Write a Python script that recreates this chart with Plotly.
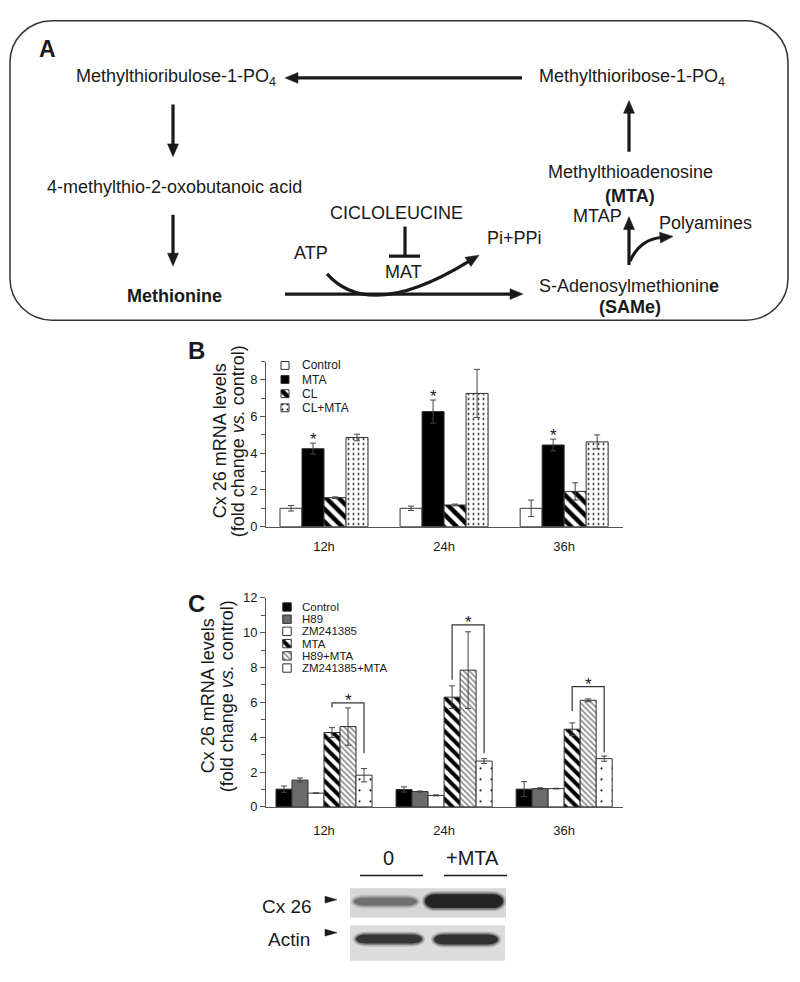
import math
import plotly.graph_objects as go

W, H = 800, 982
INK = "#1a1a1a"
FONT = "Liberation Sans, Arial, sans-serif"

# ---------------- data ----------------
time_labels = ["12h", "24h", "36h"]

# Panel B
b_series = ["Control", "MTA", "CL", "CL+MTA"]
b_control = [1.0, 1.0, 1.0]
b_control_err = [0.15, 0.12, 0.45]
b_mta = [4.25, 6.27, 4.45]
b_mta_err = [0.30, 0.63, 0.32]
b_cl = [1.58, 1.18, 1.92]
b_cl_err = [0.04, 0.05, 0.47]
b_clmta = [4.86, 7.26, 4.62]
b_clmta_err = [0.18, 1.31, 0.38]

# Panel C
c_series = ["Control", "H89", "ZM241385", "MTA", "H89+MTA", "ZM241385+MTA"]
c_control = [1.02, 1.00, 1.02]
c_control_err = [0.18, 0.15, 0.43]
c_h89 = [1.54, 0.88, 1.05]
c_h89_err = [0.12, 0.03, 0.05]
c_zm = [0.79, 0.66, 1.05]
c_zm_err = [0.02, 0.03, 0.02]
c_mta = [4.27, 6.30, 4.46]
c_mta_err = [0.28, 0.65, 0.36]
c_h89mta = [4.61, 7.85, 6.12]
c_h89mta_err = [1.07, 2.20, 0.08]
c_zmmta = [1.82, 2.63, 2.77]
c_zmmta_err = [0.38, 0.14, 0.15]

# significance brackets in C (MTA vs ZM241385+MTA)
c_bracket_top = [5.97, 10.45, 6.9]
c_bracket_left_end = [5.7, 7.3, 5.5]
c_bracket_right_end = [3.08, 3.08, 3.14]

# Western blot labels
blot_lanes = ["0", "+MTA"]
blot_rows = ["Cx 26", "Actin"]

# ---------------- styles ----------------
b_styles = [
    dict(color="white"),
    dict(color="black"),
    dict(color="white", pattern=dict(shape="\\", fgcolor="black", bgcolor="white", size=9, solidity=0.5, fillmode="replace")),
    dict(color="white", pattern=dict(shape=".", fgcolor="black", bgcolor="white", size=5, solidity=0.12, fillmode="replace")),
]
c_styles = [
    dict(color="black"),
    dict(color="#6b6b6b"),
    dict(color="white"),
    dict(color="white", pattern=dict(shape="\\", fgcolor="black", bgcolor="white", size=8, solidity=0.5, fillmode="replace")),
    dict(color="white", pattern=dict(shape="\\", fgcolor="#8a8a8a", bgcolor="white", size=4, solidity=0.4, fillmode="replace")),
    dict(color="white", pattern=dict(shape=".", fgcolor="black", bgcolor="white", size=11, solidity=0.03, fillmode="replace")),
]

fig = go.Figure()
x_idx = list(range(len(time_labels)))

def add_group(values, errs, styles, names, xa, ya, group_w):
    n = len(values)
    w = group_w / n
    centers = []
    for i, (v, e, st, nm) in enumerate(zip(values, errs, styles, names)):
        off = -group_w / 2 + i * w
        marker = dict(st)
        marker["line"] = dict(color="#333", width=1)
        fig.add_trace(go.Bar(
            x=x_idx, y=v, name=nm, width=w, offset=off,
            marker=marker, xaxis=xa, yaxis=ya, showlegend=False,
            error_y=dict(type="data", array=e, symmetric=True, color="#444", thickness=1, width=3),
        ))
        centers.append([g + off + w / 2 for g in x_idx])
    return centers

b_vals = [b_control, b_mta, b_cl, b_clmta]
b_errs = [b_control_err, b_mta_err, b_cl_err, b_clmta_err]
b_centers = add_group(b_vals, b_errs, b_styles, b_series, "x", "y", 0.733)

c_vals = [c_control, c_h89, c_zm, c_mta, c_h89mta, c_zmmta]
c_errs = [c_control_err, c_h89_err, c_zm_err, c_mta_err, c_h89mta_err, c_zmmta_err]
c_centers = add_group(c_vals, c_errs, c_styles, c_series, "x2", "y2", 0.8)

annotations = []
shapes = []

# stars over MTA in B
for g in x_idx:
    annotations.append(dict(x=b_centers[1][g], y=b_mta[g] + b_mta_err[g], xref="x", yref="y",
                            text="*", showarrow=False, yanchor="middle", yshift=4,
                            font=dict(size=17, color=INK, family=FONT)))

# brackets in C
for g in x_idx:
    xl = c_centers[3][g]
    xr = c_centers[5][g]
    fig.add_trace(go.Scatter(
        x=[xl, xl, xr, xr],
        y=[c_bracket_left_end[g], c_bracket_top[g], c_bracket_top[g], c_bracket_right_end[g]],
        mode="lines", line=dict(color="#333", width=1.2), xaxis="x2", yaxis="y2",
        showlegend=False, hoverinfo="skip"))
    annotations.append(dict(x=(xl + xr) / 2, y=c_bracket_top[g], xref="x2", yref="y2",
                            text="*", showarrow=False, yanchor="middle", yshift=2,
                            font=dict(size=17, color=INK, family=FONT)))

# ---------------- pixel helpers ----------------
def txt(x, y, s, size=18, xanchor="center", yanchor="middle", angle=0, color=INK):
    annotations.append(dict(x=x, y=y, xref="x3", yref="y3", text=s, showarrow=False,
                            xanchor=xanchor, yanchor=yanchor, textangle=angle,
                            font=dict(size=size, color=color, family=FONT)))

def line(x0, y0, x1, y1, w=3.2, color=INK):
    shapes.append(dict(type="line", xref="x3", yref="y3", x0=x0, y0=y0, x1=x1, y1=y1,
                       line=dict(color=color, width=w)))

def head(tipx, tipy, ux, uy, hl=13, hw=11, color=INK):
    bx, by = tipx - ux * hl, tipy - uy * hl
    px_, py_ = -uy, ux
    shapes.append(dict(type="path", xref="x3", yref="y3",
                       path=f"M {tipx},{tipy} L {bx + px_ * hw / 2},{by + py_ * hw / 2} L {bx - px_ * hw / 2},{by - py_ * hw / 2} Z",
                       fillcolor=color, line=dict(color=color, width=0.5)))
    return bx, by

def arrow(x0, y0, x1, y1, w=3.2, hl=13, hw=11):
    dx, dy = x1 - x0, y1 - y0
    L = math.hypot(dx, dy)
    ux, uy = dx / L, dy / L
    bx, by = head(x1, y1, ux, uy, hl, hw)
    line(x0, y0, bx + ux, by + uy, w)

def curved_arrow(p0, p1, p2, w=3.2, hl=13, hw=11):
    dx, dy = p2[0] - p1[0], p2[1] - p1[1]
    L = math.hypot(dx, dy)
    ux, uy = dx / L, dy / L
    bx, by = head(p2[0], p2[1], ux, uy, hl, hw)
    shapes.append(dict(type="path", xref="x3", yref="y3",
                       path=f"M {p0[0]},{p0[1]} Q {p1[0]},{p1[1]} {bx + ux},{by + uy}",
                       fillcolor="rgba(0,0,0,0)", line=dict(color=INK, width=w)))

# ---------------- Panel A ----------------
x0, x1, y0, y1, r = 10, 788, 14, 318, 42
k = 0.5523 * r
shapes.append(dict(type="path", xref="x3", yref="y3", line=dict(color="#333", width=1.5),
    path=(f"M {x0 + r},{y0} L {x1 - r},{y0} C {x1 - r + k},{y0} {x1},{y0 + r - k} {x1},{y0 + r} "
          f"L {x1},{y1 - r} C {x1},{y1 - r + k} {x1 - r + k},{y1} {x1 - r},{y1} "
          f"L {x0 + r},{y1} C {x0 + r - k},{y1} {x0},{y1 - r + k} {x0},{y1 - r} "
          f"L {x0},{y0 + r} C {x0},{y0 + r - k} {x0 + r - k},{y0} {x0 + r},{y0} Z")))

txt(47, 43, "<b>A</b>", size=23)
txt(74, 72, "Methylthioribulose-1-PO<sub>4</sub>", xanchor="left")
txt(537, 72, "Methylthioribose-1-PO<sub>4</sub>", xanchor="left")
txt(45, 183, "4-methylthio-2-oxobutanoic acid", xanchor="left")
txt(174, 293, "<b>Methionine</b>")
txt(629, 283, "S-Adenosylmethionin<b>e</b>")
txt(630, 305, "<b>(SAMe)</b>")
txt(630, 168, "Methylthioadenosine")
txt(630, 192, "<b>(MTA)</b>")
txt(597, 212, "MTAP")
txt(657, 219, "Polyamines", xanchor="left")
txt(396, 209, "CICLOLEUCINE")
txt(403, 269, "MAT")
txt(311, 250, "ATP")
txt(514, 235, "Pi+PPi")

arrow(522, 72, 285, 72)
arrow(173, 99, 173, 152)
arrow(173, 211, 173, 263)
arrow(285, 291.5, 523, 291.5)
arrow(629, 147, 629, 95)
arrow(629, 262, 629, 213)
curved_arrow((630, 258), (640, 236), (673, 233))
curved_arrow((327, 271), (370, 320), (479, 252))
line(405, 223, 405, 253)
line(389, 253, 420, 253)

# ---------------- Panel B / C labels, legends, titles ----------------
txt(196, 349, "<b>B</b>", size=24)
txt(196, 606, "<b>C</b>", size=24)

txt(220, 441, "Cx 26 mRNA levels", size=18, angle=-90)
txt(238, 441, "(fold change <i>vs.</i> control)", size=18, angle=-90)
txt(208, 700, "Cx 26 mRNA levels", size=18, angle=-90)
txt(227, 700, "(fold change <i>vs.</i> control)", size=18, angle=-90)

def swatches(names, styles, xs, ys, size, xt, fsize):
    for nm, st, yc in zip(names, styles, ys):
        marker = dict(st)
        marker["line"] = dict(color="#333", width=1)
        fig.add_trace(go.Bar(x=[xs], y=[size], base=[yc - size / 2], width=[size], offset=-size / 2,
                             marker=marker, xaxis="x3", yaxis="y3", showlegend=False, hoverinfo="skip"))
        txt(xt, yc, nm, size=fsize, xanchor="left")

swatches(b_series, b_styles, 285, [364, 378.3, 392.7, 407], 8, 300, 12)
swatches(c_series, c_styles, 287, [609.3, 621.7, 634, 646.5, 659, 671.3], 8.5, 300, 11.5)

# ---------------- Panel D ----------------
txt(388, 864, blot_lanes[0], size=20)
txt(472, 864, blot_lanes[1], size=20)
line(360, 882, 423, 882, w=1.6)
line(444, 882, 507, 882, w=1.6)
txt(314, 913, blot_rows[0], size=19, xanchor="right")
txt(312, 947, blot_rows[1], size=19, xanchor="right")
head(337, 906.5, 1, 0, hl=12, hw=7)
head(337, 940, 1, 0, hl=12, hw=7)

shapes.append(dict(type="rect", xref="x3", yref="y3", x0=350, x1=506, y0=895, y1=925,
                   fillcolor="#d7d7d7", line=dict(width=0)))
shapes.append(dict(type="rect", xref="x3", yref="y3", x0=350, x1=505, y0=932.5, y1=968.5,
                   fillcolor="#dcdcdc", line=dict(width=0)))

def band(xa, xb, yc, h, color, soft=4):
    for grow, op in [(soft, 0.22), (soft / 2, 0.4), (0, 0.9)]:
        hh = h / 2 + grow
        rr = min(10 + grow, (xb - xa) / 2)
        a, b = xa - grow, xb + grow
        kk = 0.5523
        p = (f"M {a + rr},{yc - hh} L {b - rr},{yc - hh} "
             f"C {b - rr + kk * rr},{yc - hh} {b},{yc - kk * hh} {b},{yc} "
             f"C {b},{yc + kk * hh} {b - rr + kk * rr},{yc + hh} {b - rr},{yc + hh} "
             f"L {a + rr},{yc + hh} "
             f"C {a + rr - kk * rr},{yc + hh} {a},{yc + kk * hh} {a},{yc} "
             f"C {a},{yc - kk * hh} {a + rr - kk * rr},{yc - hh} {a + rr},{yc - hh} Z")
        shapes.append(dict(type="path", xref="x3", yref="y3", path=p,
                           fillcolor=color, opacity=op, line=dict(width=0)))

band(354, 417, 908.5, 8, "#6a6a6a", soft=3)
band(425, 503, 908, 14, "#1c1c1c", soft=3)
band(356, 422, 946.5, 9, "#2e2e2e", soft=3)
band(434, 498, 947, 10, "#2a2a2a", soft=3)

# invisible anchor trace for pixel axes
fig.add_trace(go.Scatter(x=[0, W], y=[0, H], mode="markers", marker=dict(opacity=0),
                         xaxis="x3", yaxis="y3", showlegend=False, hoverinfo="skip"))

# ---------------- layout ----------------
def px_x(v):
    return v / W

def px_y(v):
    return 1 - v / H

axis_common = dict(showline=True, linecolor="#555", linewidth=1, showgrid=False, zeroline=False,
                   tickfont=dict(size=13, color=INK, family=FONT), fixedrange=True)

fig.update_layout(
    width=W, height=H, autosize=False,
    margin=dict(l=0, r=0, t=0, b=0, pad=0),
    paper_bgcolor="white", plot_bgcolor="rgba(0,0,0,0)",
    barmode="overlay", showlegend=False,
    font=dict(family=FONT, color=INK),
    xaxis=dict(axis_common, domain=[px_x(266), px_x(623)], range=[-0.483, 2.49], anchor="y",
               tickvals=x_idx, ticktext=time_labels, ticks="outside", ticklen=8,
               tickcolor="rgba(0,0,0,0)"),
    yaxis=dict(axis_common, domain=[px_y(527.7), px_y(360)], range=[0, 9], anchor="x",
               tickvals=[0, 2, 4, 6, 8], ticks="outside", ticklen=5, tickcolor="#555",
               minor=dict(tickvals=[1, 3, 5, 7, 9], ticks="outside", ticklen=4, tickcolor="#555")),
    xaxis2=dict(axis_common, domain=[px_x(266), px_x(623)], range=[-0.483, 2.49], anchor="y2",
                tickvals=x_idx, ticktext=time_labels, ticks="outside", ticklen=12,
                tickcolor="rgba(0,0,0,0)"),
    yaxis2=dict(axis_common, domain=[px_y(812.3), px_y(600)], range=[0, 12], anchor="x2",
                tickvals=[0, 2, 4, 6, 8, 10, 12], ticks="outside", ticklen=5, tickcolor="#555",
                minor=dict(tickvals=[1, 3, 5, 7, 9, 11], ticks="outside", ticklen=4, tickcolor="#555")),
    xaxis3=dict(domain=[0, 1], range=[0, W], visible=False, anchor="y3", fixedrange=True),
    yaxis3=dict(domain=[0, 1], range=[H, 0], visible=False, anchor="x3", fixedrange=True),
    annotations=annotations,
    shapes=shapes,
)

fig.write_html("out.html", config={"displayModeBar": False},
               post_script="document.body.style.margin='0';document.body.style.overflow='hidden';")
